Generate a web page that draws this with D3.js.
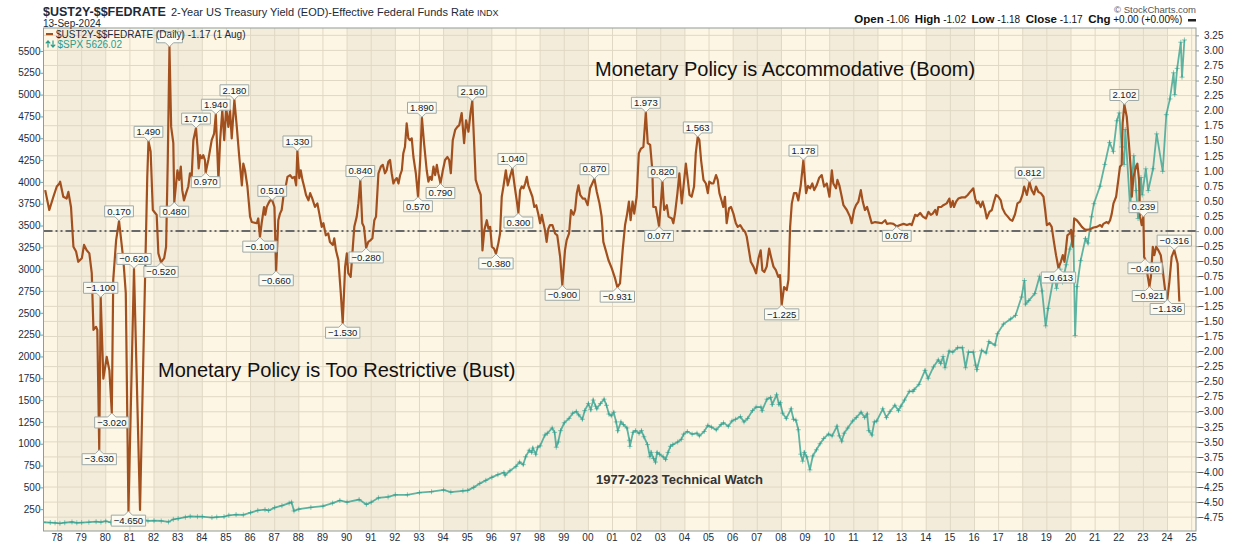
<!DOCTYPE html>
<html><head><meta charset="utf-8">
<script src="https://cdn.jsdelivr.net/npm/d3@7"></script>
<style>
body{margin:0;background:#fff;}
svg{display:block;font-family:"Liberation Sans",Arial,sans-serif;}
</style>
</head><body>
<svg id="chart" width="1240" height="546"></svg>
<script>
// ---- DATA ----
// 2-Year Treasury minus Fed Funds spread: [decimal year, value]
const spread = [
[1977.49,0.68],[1977.66,0.35],[1977.83,0.57],[1977.97,0.74],[1978.08,0.79],[1978.11,0.82],[1978.24,0.57],[1978.38,0.54],[1978.45,0.65],[1978.56,0.40],[1978.66,-0.26],[1978.77,-0.34],[1978.86,-0.51],[1979.01,-0.45],[1979.10,-0.23],[1979.21,-0.32],[1979.32,-0.37],[1979.42,-0.70],[1979.49,-1.64],[1979.60,-1.59],[1979.65,-1.64],[1979.73,-3.63],[1979.79,-1.10],[1979.90,-2.45],[1980.04,-2.09],[1980.15,-2.31],[1980.25,-3.02],[1980.31,-0.81],[1980.43,-0.15],[1980.55,0.17],[1980.73,-0.48],[1980.83,-1.03],[1980.94,-4.65],[1981.17,-0.62],[1981.42,-4.63],[1981.72,0.90],[1981.77,1.49],[1981.86,1.32],[1981.95,0.35],[1982.11,0.27],[1982.18,-0.37],[1982.29,-0.52],[1982.42,-0.45],[1982.50,-0.26],[1982.57,1.18],[1982.64,3.06],[1982.71,1.73],[1982.80,1.46],[1982.84,0.48],[1982.97,1.01],[1983.04,0.85],[1983.11,1.07],[1983.17,0.68],[1983.24,0.51],[1983.33,0.63],[1983.42,0.74],[1983.49,0.96],[1983.56,0.90],[1983.63,1.51],[1983.74,1.71],[1983.80,1.40],[1983.85,1.04],[1983.91,1.26],[1983.98,1.21],[1984.04,1.26],[1984.11,1.18],[1984.14,0.97],[1984.25,1.18],[1984.39,1.51],[1984.49,1.62],[1984.56,1.94],[1984.67,0.85],[1984.74,1.51],[1984.83,2.01],[1984.91,1.51],[1984.99,2.06],[1985.08,1.73],[1985.15,2.01],[1985.22,1.54],[1985.33,2.18],[1985.43,1.73],[1985.52,1.29],[1985.64,0.76],[1985.70,1.12],[1985.77,1.01],[1985.87,0.74],[1985.98,0.24],[1986.05,0.15],[1986.26,0.13],[1986.32,0.21],[1986.39,-0.10],[1986.46,0.13],[1986.56,0.40],[1986.61,0.27],[1986.67,0.40],[1986.74,0.46],[1986.81,0.51],[1986.90,0.51],[1986.99,0.40],[1987.06,-0.66],[1987.15,0.18],[1987.22,0.29],[1987.29,0.35],[1987.36,0.57],[1987.43,0.68],[1987.53,0.90],[1987.64,0.93],[1987.73,0.88],[1987.82,0.90],[1987.89,0.76],[1987.94,1.33],[1988.02,0.88],[1988.08,1.01],[1988.15,0.85],[1988.22,0.74],[1988.30,0.60],[1988.40,0.51],[1988.47,0.63],[1988.56,0.54],[1988.67,0.40],[1988.77,0.46],[1988.85,0.29],[1988.95,0.07],[1989.02,0.13],[1989.12,-0.07],[1989.22,-0.04],[1989.29,-0.18],[1989.41,-0.23],[1989.47,-0.12],[1989.54,-0.32],[1989.64,-0.48],[1989.74,-1.03],[1989.82,-1.53],[1989.92,-0.59],[1989.99,-0.37],[1990.05,-0.70],[1990.15,-0.76],[1990.24,-0.26],[1990.30,0.07],[1990.40,0.24],[1990.47,0.46],[1990.55,0.84],[1990.63,0.13],[1990.70,0.07],[1990.79,-0.28],[1990.88,-0.18],[1990.98,-0.15],[1991.05,-0.12],[1991.13,0.18],[1991.20,0.24],[1991.30,0.96],[1991.40,1.07],[1991.48,1.10],[1991.57,0.96],[1991.64,1.01],[1991.71,1.15],[1991.78,1.18],[1991.85,0.96],[1991.92,0.79],[1991.99,0.85],[1992.06,0.88],[1992.13,0.79],[1992.20,0.93],[1992.27,1.01],[1992.33,1.29],[1992.40,1.40],[1992.47,1.79],[1992.54,1.54],[1992.61,1.51],[1992.68,1.54],[1992.75,1.23],[1992.85,0.96],[1992.94,0.57],[1993.03,1.18],[1993.10,1.89],[1993.19,1.46],[1993.30,1.01],[1993.37,0.82],[1993.44,0.90],[1993.51,0.85],[1993.58,1.07],[1993.65,0.93],[1993.72,1.10],[1993.78,0.96],[1993.87,0.79],[1993.97,1.01],[1994.06,1.18],[1994.16,1.23],[1994.23,1.18],[1994.30,0.96],[1994.38,1.51],[1994.48,1.68],[1994.57,1.73],[1994.65,1.76],[1994.75,1.96],[1994.85,1.46],[1994.93,1.84],[1995.03,1.65],[1995.12,1.98],[1995.19,2.16],[1995.33,0.85],[1995.44,0.71],[1995.54,0.60],[1995.61,-0.32],[1995.69,0.02],[1995.79,0.18],[1995.86,0.04],[1995.93,0.07],[1996.00,-0.26],[1996.09,-0.29],[1996.17,-0.38],[1996.27,-0.20],[1996.34,-0.04],[1996.41,0.57],[1996.48,0.74],[1996.58,1.01],[1996.66,0.76],[1996.75,0.90],[1996.85,1.04],[1996.93,0.79],[1997.03,0.51],[1997.10,0.30],[1997.17,0.68],[1997.24,0.74],[1997.31,0.71],[1997.38,0.79],[1997.45,0.90],[1997.51,0.76],[1997.58,0.68],[1997.68,0.57],[1997.76,0.40],[1997.84,0.43],[1997.93,0.27],[1998.00,0.13],[1998.07,0.27],[1998.13,0.15],[1998.20,0.02],[1998.27,-0.18],[1998.34,0.04],[1998.41,0.10],[1998.51,0.10],[1998.62,-0.04],[1998.71,-0.07],[1998.83,-0.43],[1998.92,-0.90],[1999.03,-0.32],[1999.10,-0.15],[1999.20,-0.04],[1999.28,0.35],[1999.38,0.27],[1999.45,0.35],[1999.52,0.63],[1999.59,0.76],[1999.66,0.60],[1999.77,0.54],[1999.86,0.54],[1999.97,0.43],[2000.07,0.71],[2000.16,0.79],[2000.25,0.87],[2000.35,0.65],[2000.46,0.46],[2000.55,0.24],[2000.62,-0.18],[2000.72,-0.32],[2000.83,-0.48],[2000.97,-0.62],[2001.11,-0.79],[2001.20,-0.931],[2001.31,-0.87],[2001.42,-0.32],[2001.52,0.10],[2001.60,0.27],[2001.68,0.49],[2001.75,0.18],[2001.83,0.49],[2001.90,0.29],[2002.00,0.57],[2002.09,1.29],[2002.18,1.37],[2002.28,1.40],[2002.38,1.973],[2002.46,1.46],[2002.56,1.43],[2002.65,1.01],[2002.69,0.40],[2002.79,0.40],[2002.86,0.24],[2002.93,0.077],[2003.07,0.82],[2003.14,0.35],[2003.25,0.43],[2003.32,0.24],[2003.46,0.21],[2003.52,0.13],[2003.59,0.29],[2003.69,0.63],[2003.77,0.96],[2003.87,0.46],[2003.97,0.85],[2004.04,1.12],[2004.12,0.85],[2004.19,0.60],[2004.28,0.57],[2004.38,0.74],[2004.45,1.29],[2004.53,1.563],[2004.60,1.51],[2004.67,1.18],[2004.77,0.85],[2004.87,0.79],[2004.95,0.63],[2005.01,0.82],[2005.11,0.79],[2005.18,0.79],[2005.29,0.93],[2005.36,0.85],[2005.43,0.63],[2005.53,0.49],[2005.59,0.40],[2005.66,0.57],[2005.73,0.13],[2005.83,0.38],[2005.91,0.40],[2006.01,0.29],[2006.11,0.13],[2006.19,0.07],[2006.29,0.10],[2006.38,0.04],[2006.49,-0.01],[2006.56,-0.09],[2006.63,-0.26],[2006.73,-0.51],[2006.84,-0.59],[2006.95,-0.70],[2007.05,-0.45],[2007.14,-0.32],[2007.21,-0.65],[2007.29,-0.68],[2007.39,-0.59],[2007.49,-0.29],[2007.57,-0.43],[2007.67,-0.59],[2007.77,-0.65],[2007.87,-0.76],[2007.94,-0.73],[2008.01,-1.225],[2008.11,-0.93],[2008.22,-0.98],[2008.29,-0.81],[2008.36,0.07],[2008.43,0.46],[2008.52,0.63],[2008.62,0.63],[2008.70,0.51],[2008.80,0.76],[2008.91,1.178],[2009.02,0.63],[2009.10,0.75],[2009.19,0.71],[2009.28,0.79],[2009.36,0.68],[2009.46,0.76],[2009.56,0.88],[2009.67,0.93],[2009.77,0.74],[2009.88,0.79],[2009.99,0.57],[2010.09,1.01],[2010.15,0.79],[2010.26,0.71],[2010.32,0.85],[2010.40,0.76],[2010.50,0.57],[2010.57,0.43],[2010.71,0.35],[2010.84,0.24],[2010.91,0.13],[2011.01,0.35],[2011.09,0.43],[2011.19,0.49],[2011.29,0.68],[2011.37,0.49],[2011.46,0.35],[2011.55,0.40],[2011.63,0.29],[2011.74,0.13],[2011.88,0.15],[2012.02,0.14],[2012.16,0.13],[2012.30,0.18],[2012.37,0.12],[2012.51,0.13],[2012.64,0.12],[2012.78,0.078],[2012.92,0.10],[2013.06,0.12],[2013.20,0.10],[2013.33,0.12],[2013.40,0.10],[2013.54,0.27],[2013.63,0.25],[2013.75,0.30],[2013.86,0.24],[2013.99,0.21],[2014.09,0.32],[2014.19,0.27],[2014.27,0.29],[2014.37,0.35],[2014.44,0.27],[2014.50,0.40],[2014.62,0.40],[2014.71,0.43],[2014.85,0.46],[2014.96,0.54],[2015.02,0.40],[2015.10,0.50],[2015.15,0.40],[2015.24,0.49],[2015.33,0.54],[2015.47,0.56],[2015.61,0.56],[2015.72,0.60],[2015.82,0.65],[2015.95,0.71],[2016.03,0.54],[2016.10,0.46],[2016.16,0.49],[2016.26,0.40],[2016.34,0.49],[2016.44,0.35],[2016.51,0.21],[2016.62,0.32],[2016.72,0.35],[2016.81,0.49],[2016.89,0.60],[2016.99,0.57],[2017.09,0.51],[2017.16,0.38],[2017.27,0.29],[2017.38,0.24],[2017.48,0.19],[2017.57,0.17],[2017.68,0.28],[2017.78,0.46],[2017.89,0.49],[2017.99,0.60],[2018.06,0.74],[2018.17,0.60],[2018.28,0.812],[2018.37,0.68],[2018.47,0.61],[2018.55,0.74],[2018.65,0.65],[2018.75,0.63],[2018.86,0.57],[2018.93,0.35],[2019.00,0.10],[2019.11,0.13],[2019.20,0.07],[2019.30,-0.20],[2019.38,-0.40],[2019.48,-0.613],[2019.58,-0.51],[2019.66,-0.40],[2019.73,-0.51],[2019.80,-0.26],[2019.85,-0.07],[2019.94,-0.04],[2020.00,0.02],[2020.07,-0.26],[2020.13,0.21],[2020.24,0.18],[2020.34,0.13],[2020.45,0.07],[2020.56,0.03],[2020.65,0.02],[2020.79,0.03],[2020.93,0.06],[2021.07,0.07],[2021.21,0.10],[2021.28,0.07],[2021.34,0.12],[2021.48,0.15],[2021.55,0.13],[2021.62,0.18],[2021.69,0.29],[2021.76,0.46],[2021.87,0.57],[2021.96,0.85],[2022.03,1.07],[2022.10,1.10],[2022.14,1.79],[2022.21,2.102],[2022.31,1.90],[2022.41,1.40],[2022.48,1.01],[2022.52,0.57],[2022.59,0.90],[2022.69,1.07],[2022.75,1.12],[2022.82,0.85],[2022.86,0.24],[2022.93,0.10],[2023.00,0.239],[2023.03,-0.43],[2023.07,-0.46],[2023.14,-0.65],[2023.25,-0.921],[2023.31,-0.76],[2023.39,-0.26],[2023.45,-0.40],[2023.53,-0.26],[2023.62,-0.32],[2023.72,-0.40],[2023.80,-0.65],[2023.90,-0.98],[2023.99,-1.136],[2024.07,-0.87],[2024.17,-0.43],[2024.28,-0.316],[2024.35,-0.43],[2024.42,-0.54],[2024.49,-1.17]
];

// S&P 500 overlay: [decimal year, index level]
const spx = [
[1977.42,100],[1977.7,97],[1977.9,93],[1978.1,88],[1978.3,95],[1978.6,103],[1978.8,94],[1979.0,97],[1979.3,101],[1979.6,107],[1979.8,102],[1980.0,112],[1980.2,100],[1980.4,111],[1980.6,123],[1980.9,138],[1981.0,132],[1981.3,133],[1981.6,125],[1981.75,116],[1982.0,118],[1982.3,115],[1982.6,104],[1982.8,134],[1983.0,143],[1983.3,158],[1983.5,168],[1983.8,164],[1984.0,165],[1984.4,154],[1984.6,160],[1984.9,165],[1985.1,180],[1985.4,188],[1985.7,185],[1986.0,210],[1986.3,236],[1986.6,245],[1986.75,235],[1987.0,268],[1987.3,290],[1987.6,320],[1987.7,330],[1987.8,230],[1988.0,250],[1988.5,270],[1989.0,285],[1989.4,320],[1989.7,350],[1990.0,330],[1990.5,360],[1990.8,305],[1991.0,330],[1991.3,380],[1991.7,390],[1992.0,415],[1992.5,415],[1993.0,440],[1993.5,450],[1994.0,470],[1994.3,445],[1994.8,460],[1995.0,465],
[1995.25,500],[1995.5,545],[1995.75,580],[1996.0,615],[1996.25,645],[1996.5,670],[1996.55,640],[1996.75,690],[1997.0,740],[1997.15,790],[1997.3,760],[1997.4,850],[1997.55,925],[1997.65,900],[1997.7,950],[1997.82,880],[1997.9,960],[1998.0,975],[1998.2,1100],[1998.3,1120],[1998.5,1180],[1998.6,1130],[1998.67,960],[1998.75,1020],[1998.85,1150],[1999.0,1240],[1999.2,1290],[1999.35,1350],[1999.5,1370],[1999.6,1330],[1999.75,1280],[1999.85,1380],[2000.0,1460],[2000.1,1390],[2000.2,1500],[2000.3,1430],[2000.35,1400],[2000.5,1460],[2000.65,1510],[2000.75,1440],[2000.85,1340],[2000.95,1320],
[2001.05,1360],[2001.15,1250],[2001.22,1150],[2001.35,1250],[2001.45,1220],[2001.6,1180],[2001.7,1040],[2001.72,970],[2001.85,1130],[2001.95,1150],[2002.1,1120],[2002.2,1150],[2002.3,1080],[2002.45,990],[2002.55,850],[2002.6,900],[2002.7,830],[2002.78,790],[2002.85,900],[2002.95,880],[2003.1,850],[2003.2,820],[2003.3,900],[2003.4,970],[2003.5,990],[2003.7,1020],[2003.85,1050],[2003.95,1110],[2004.1,1140],[2004.3,1110],[2004.5,1120],[2004.6,1090],[2004.8,1140],[2004.95,1210],[2005.1,1190],[2005.3,1160],[2005.5,1220],[2005.6,1240],[2005.8,1200],[2005.95,1260],[2006.1,1280],[2006.3,1310],[2006.45,1250],[2006.6,1290],[2006.8,1380],[2006.95,1420],[2007.15,1420],[2007.2,1380],[2007.4,1510],[2007.55,1530],[2007.62,1450],[2007.8,1560],[2007.9,1450],[2007.95,1470],
[2008.05,1350],[2008.2,1290],[2008.4,1400],[2008.5,1280],[2008.6,1270],[2008.7,1160],[2008.8,880],[2008.88,800],[2008.95,900],[2009.05,850],[2009.18,700],[2009.3,860],[2009.45,930],[2009.6,1000],[2009.75,1060],[2009.95,1110],[2010.1,1090],[2010.3,1200],[2010.4,1090],[2010.5,1030],[2010.6,1120],[2010.75,1180],[2010.95,1260],[2011.1,1300],[2011.3,1360],[2011.45,1300],[2011.55,1340],[2011.62,1150],[2011.75,1100],[2011.85,1250],[2011.95,1260],[2012.2,1400],[2012.35,1300],[2012.5,1370],[2012.7,1440],[2012.85,1380],[2012.95,1430],[2013.1,1500],[2013.3,1600],[2013.45,1600],[2013.5,1620],[2013.7,1680],[2013.95,1840],[2014.08,1750],[2014.3,1880],[2014.5,1960],[2014.6,1920],[2014.7,2000],[2014.78,1870],[2014.95,2060],[2015.1,2050],[2015.3,2100],[2015.5,2100],[2015.63,1870],[2015.75,2050],[2015.95,2050],[2016.05,1900],[2016.1,1850],[2016.3,2070],[2016.48,2040],[2016.6,2170],[2016.85,2130],[2016.95,2260],
[2017.2,2370],[2017.5,2430],[2017.7,2470],[2017.95,2680],[2018.07,2870],[2018.12,2600],[2018.25,2640],[2018.5,2720],[2018.7,2920],[2018.8,2750],[2018.95,2350],[2019.05,2550],[2019.3,2940],[2019.4,2780],[2019.55,3000],[2019.65,2850],[2019.8,3050],[2019.95,3230],[2020.1,3380],[2020.17,2240],[2020.25,2800],[2020.4,3100],[2020.6,3350],[2020.7,3300],[2020.85,3600],[2020.95,3750],[2021.2,3950],[2021.4,4200],[2021.6,4450],[2021.75,4350],[2021.9,4700],[2022.0,4790],[2022.1,4400],[2022.2,4200],[2022.25,4600],[2022.45,3700],[2022.6,4300],[2022.7,3900],[2022.78,3580],[2022.9,4050],[2022.95,3850],[2023.1,4150],[2023.2,3900],[2023.4,4150],[2023.55,4550],[2023.8,4120],[2023.95,4770],[2024.1,4950],[2024.25,5250],[2024.3,5000],[2024.4,5300],[2024.55,5600],[2024.6,5200],[2024.7,5626]
];

// annotated extremes: [decimal year, value, kind]
const callouts = [
[1979.73,-3.63,"low"],[1979.79,-1.10,"high"],[1980.25,-3.02,"low"],[1980.55,0.17,"high"],[1980.94,-4.65,"low"],[1981.17,-0.62,"high"],[1981.77,1.49,"high"],[1982.29,-0.52,"low"],[1982.84,0.48,"low"],[1983.74,1.71,"high"],[1984.14,0.97,"low"],[1984.56,1.94,"high"],[1985.33,2.18,"high"],[1986.39,-0.10,"low"],[1986.90,0.51,"high"],[1987.06,-0.66,"low"],[1987.94,1.33,"high"],[1989.82,-1.53,"low"],[1990.55,0.84,"high"],[1990.79,-0.28,"low"],[1992.94,0.57,"low"],[1993.10,1.89,"high"],[1993.87,0.79,"low"],[1995.19,2.16,"high"],[1996.17,-0.38,"low"],[1996.85,1.04,"high"],[1997.10,0.30,"low"],[1998.92,-0.90,"low"],[2000.25,0.87,"high"],[2001.20,-0.931,"low"],[2002.38,1.973,"high"],[2002.93,0.077,"low"],[2003.07,0.82,"high"],[2004.53,1.563,"high"],[2008.01,-1.225,"low"],[2008.91,1.178,"high"],[2012.78,0.078,"low"],[2018.28,0.812,"high"],[2019.48,-0.613,"low"],[2022.21,2.102,"high"],[2023.00,0.239,"high"],[2023.07,-0.46,"low"],[2023.25,-0.921,"low"],[2023.99,-1.136,"low"],[2024.28,-0.316,"high"]
];
// peak whose callout box is hidden behind the legend (text unreadable in the source)
const hiddenCallout = [1982.64, 3.06];

const yearTicks = d3.range(1978, 2026);
const leftTicks = d3.range(250, 5501, 250);
const rightTicks = d3.range(-4.75, 3.26, 0.25).map(v => +v.toFixed(2));

// ---- LAYOUT ----
const L = 43.5, R = 1196, T = 28, B = 531;
const svg = d3.select("#chart");
const x = d3.scaleLinear().domain([1977.42, 2025.18]).range([L, R]);
const yR = d3.scaleLinear().domain([-4.98, 3.372]).range([B, T]);
const yL = d3.scaleLinear().domain([0, 5763]).range([B, T]);
const ink = "#1c2c3c";
const teal = "#2a9d8c";

svg.append("defs").append("clipPath").attr("id","plot")
  .append("rect").attr("x",L).attr("y",T).attr("width",R-L).attr("height",B-T);

const plot = svg.append("g").attr("clip-path","url(#plot)");
plot.append("rect").attr("x",L).attr("y",T).attr("width",R-L).attr("height",B-T).attr("fill","#fdf6e4");
plot.selectAll("rect.band").data(d3.range(1978, 2025, 4)).join("rect").attr("class","band")
  .attr("x", d => x(d)).attr("width", d => x(d+2)-x(d)).attr("y",T).attr("height",B-T)
  .attr("fill","#f3ecdb");
plot.selectAll("line.hg").data(rightTicks).join("line")
  .attr("x1",L).attr("x2",R).attr("y1",d=>yR(d)).attr("y2",d=>yR(d))
  .attr("stroke","#e0d8c3").attr("stroke-width",1);
plot.selectAll("line.vg").data(yearTicks).join("line")
  .attr("y1",T).attr("y2",B).attr("x1",d=>x(d)).attr("x2",d=>x(d))
  .attr("stroke","#e0d8c3").attr("stroke-width",1);

plot.append("line").attr("x1",L).attr("x2",R).attr("y1",yR(0)).attr("y2",yR(0))
  .attr("stroke","#6a6a6a").attr("stroke-width",2).attr("stroke-dasharray","9,3,2,3,2,3");

// SPX
const spxLine = d3.line().x(d=>x(d[0])).y(d=>yL(d[1]));
plot.append("path").datum(spx).attr("d",spxLine).attr("fill","none")
  .attr("stroke",teal).attr("stroke-width",1.8).attr("stroke-opacity",0.75);
plot.selectAll("path.plus").data(spx).join("path").attr("class","plus")
  .attr("d", d => { const px=x(d[0]), py=yL(d[1]); return `M${px-2.5},${py}H${px+2.5}M${px},${py-2.5}V${py+2.5}`; })
  .attr("stroke",teal).attr("stroke-opacity",0.55).attr("stroke-width",1);

// spread
const spLine = d3.line().x(d=>x(d[0])).y(d=>yR(d[1]));
plot.append("path").datum(spread).attr("d",spLine).attr("fill","none")
  .attr("stroke","#a3501f").attr("stroke-width",2.2).attr("stroke-linejoin","round");

// annotation texts
svg.append("text").attr("x",595).attr("y",76).attr("font-size",20).attr("fill","#111")
  .text("Monetary Policy is Accommodative (Boom)");
svg.append("text").attr("x",158).attr("y",377).attr("font-size",20).attr("fill","#111")
  .text("Monetary Policy is Too Restrictive (Bust)");
svg.append("text").attr("x",596).attr("y",484).attr("font-size",13).attr("font-weight","bold").attr("fill","#333")
  .text("1977-2023 Technical Watch");

// callouts
const fmt3 = d3.format(".3f");
const cg = svg.append("g");
function boxPath(px, py, w, kind) {
  const h = 11, p = 4, hw = 4;
  if (kind === "high") {
    const bot = py - p, top = bot - h;
    return {top, d:`M${px-w/2},${top}H${px+w/2}V${bot}H${px+hw}L${px},${py}L${px-hw},${bot}H${px-w/2}Z`};
  }
  const top = py + p, bot = top + h;
  return {top, d:`M${px-w/2},${top}H${px-hw}L${px},${py}L${px+hw},${top}H${px+w/2}V${bot}H${px-w/2}Z`};
}
{
  const px = x(hiddenCallout[0]), py = yR(hiddenCallout[1]);
  cg.append("path").attr("d", boxPath(px, py, 26, "high").d)
    .attr("fill","#fdfcf4").attr("stroke","#9ea9a7");
}
callouts.forEach(([yr, v, kind]) => {
  const px = x(yr), py = yR(v);
  const g = cg.append("g");
  const path = g.append("path");
  const t = g.append("text").attr("x",px).attr("text-anchor","middle")
    .attr("font-size",9.5).attr("fill","#10202e").text(fmt3(v));
  const w = t.node().getComputedTextLength() + 5;
  const b = boxPath(px, py, w, kind);
  path.attr("d",b.d).attr("fill","#fdfcf4").attr("fill-opacity",0.92).attr("stroke","#9ea9a7").attr("stroke-width",1);
  t.attr("y", b.top + 8.8);
});

// legend
svg.append("rect").attr("x",46).attr("y",33).attr("width",7).attr("height",2.2).attr("fill","#a3501f");
svg.append("text").attr("x",56).attr("y",38).attr("font-size",10).attr("fill",ink)
  .text("$UST2Y-$$FEDRATE (Daily) -1.17 (1 Aug)");
// up/down arrow icon for the SPX series
svg.append("path")
  .attr("d","M48,47.5V41M45.8,43.3L48,40.8L50.2,43.3M53,40.5V47M50.8,44.7L53,47.2L55.2,44.7")
  .attr("fill","none").attr("stroke",teal).attr("stroke-width",1.2);
svg.append("text").attr("x",57.5).attr("y",48).attr("font-size",10).attr("fill",teal)
  .text("$SPX 5626.02");

// axes
const ax = svg.append("g");
const la = ax.append("g").attr("transform",`translate(${L},0)`)
  .call(d3.axisLeft(yL).tickValues(leftTicks).tickSize(3).tickPadding(0).tickFormat(d3.format("d")));
const ra = ax.append("g").attr("transform",`translate(${R},0)`)
  .call(d3.axisRight(yR).tickValues(rightTicks).tickSize(3).tickPadding(0).tickFormat(d3.format(".2f")));
ra.selectAll("text").attr("text-anchor","end").attr("x",27.5);
const ba = ax.append("g").attr("transform",`translate(0,${B})`)
  .call(d3.axisBottom(x).tickValues(yearTicks).tickSize(0).tickPadding(3).tickFormat(d => String(d).slice(2)));
ba.selectAll("text").attr("dx",-1);
[la,ra,ba].forEach(a => {
  a.select(".domain").remove();
  a.selectAll("text").attr("font-size",10).attr("fill",ink).attr("font-family","'Liberation Sans',Arial,sans-serif");
  a.selectAll("line").attr("stroke","#8a9696");
});

svg.append("rect").attr("x",L).attr("y",T).attr("width",R-L).attr("height",B-T)
  .attr("fill","none").attr("stroke","#8f9c9c").attr("stroke-width",1);

// header
svg.append("text").attr("x",43).attr("y",16).attr("font-size",12.5).attr("font-weight","bold").attr("fill","#1b2a38")
  .text("$UST2Y-$$FEDRATE");
svg.append("text").attr("x",171).attr("y",16).attr("font-size",11).attr("fill","#1b2a38")
  .text("2-Year US Treasury Yield (EOD)-Effective Federal Funds Rate");
svg.append("text").attr("x",477).attr("y",16).attr("font-size",9).attr("fill","#1b2a38").text("INDX");
svg.append("text").attr("x",43).attr("y",26.5).attr("font-size",10).attr("fill","#1b2a38").text("13-Sep-2024");
svg.append("text").attr("x",1196).attr("y",13).attr("text-anchor","end").attr("font-size",9.5).attr("fill","#555")
  .text("© StockCharts.com");
const ohlc = svg.append("text").attr("x",1185).attr("y",23).attr("text-anchor","end").attr("fill","#111");
[["Open"," -1.06  "],["High"," -1.02  "],["Low"," -1.18  "],["Close"," -1.17  "],["Chg"," +0.00 (+0.00%) "]].forEach(([k,v]) => {
  ohlc.append("tspan").attr("font-weight","bold").attr("font-size",11.5).text(k);
  ohlc.append("tspan").attr("font-size",10).attr("xml:space","preserve").text(v);
});
svg.append("rect").attr("x",1188).attr("y",19).attr("width",8).attr("height",2.5).attr("fill","#222");
</script>
</body></html>
